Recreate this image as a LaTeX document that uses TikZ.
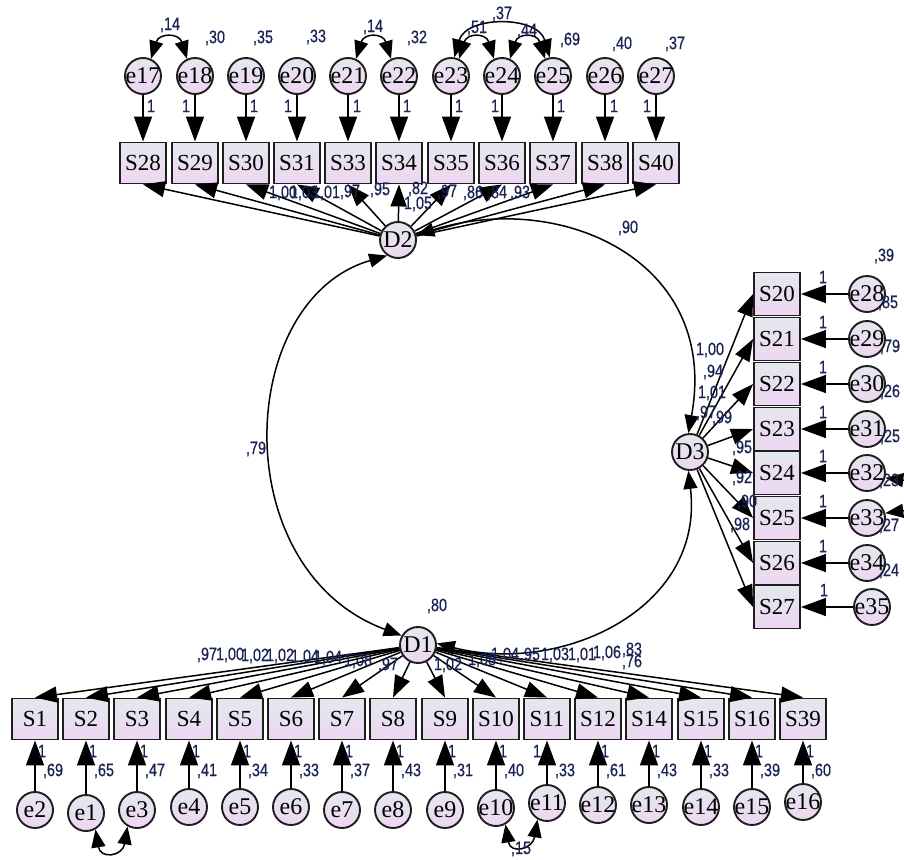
\documentclass[tikz,border=0pt]{standalone}
\usepackage{fontspec}
\setmainfont{Liberation Serif}
\newfontfamily\numfont[FakeStretch=0.8,FakeBold=0.6]{Liberation Sans}
\usetikzlibrary{arrows.meta}
\definecolor{boxtop}{RGB}{228,232,238}
\definecolor{boxbot}{RGB}{238,214,242}
\definecolor{numcol}{RGB}{25,35,85}
\definecolor{edgecol}{RGB}{30,30,30}
\newcommand\clab[1]{\makebox[0pt][c]{#1}}
\begin{document}
\begin{tikzpicture}[x=1pt,y=-1pt,
  obs/.style={draw=edgecol, line width=1.9pt, minimum width=46pt, minimum height=41pt, inner sep=0pt, top color=boxtop, bottom color=boxbot, font=\fontsize{23}{23}\selectfont},
  obsr/.style={obs, minimum height=43pt},
  lat/.style={circle, draw=edgecol, line width=1.9pt, minimum size=36pt, inner sep=0pt, top color=boxtop, bottom color=boxbot, font=\fontsize{24}{24}\selectfont},
  arr/.style={-{Triangle[length=22pt,width=16pt]}, line width=1.5pt},
  earr/.style={-{Triangle[length=25pt,width=18pt]}, line width=1.6pt},
  cov/.style={{Triangle[length=18pt,width=14pt]}-{Triangle[length=18pt,width=14pt]}, line width=1.5pt},
  num/.style={font=\numfont\fontsize{18}{18}\selectfont, text=numcol, inner sep=0pt}]
\useasboundingbox (0,0) rectangle (904,859);

% latent factors
\node[lat] (D2) at (398,240) {\clab{D2}};
\node[lat] (D3) at (690,452) {\clab{D3}};
\node[lat] (D1) at (418,645) {\clab{D1}};

% top block
\foreach \x/\n/\e/\o in {143/S28/e17/8, 195/S29/e18/-9, 246/S30/e19/8, 297/S31/e20/-9, 348/S33/e21/9, 399/S34/e22/8, 451/S35/e23/8, 502/S36/e24/-7, 553/S37/e25/8, 605/S38/e26/9, 656/S40/e27/-9}{
  \node[obs] (\n) at (\x,163) {\n};
  \node[lat] (\e) at (\x,76) {\clab{\e}};
  \draw[earr] (\e) -- (\n);
  \node[num] at ({\x+(\o)},106) {1};
  \draw[arr] (D2) -- (\n.south);
}

% right block
\foreach \y/\n/\e in {294/S20/e28, 339/S21/e29, 384/S22/e30, 429/S23/e31, 473/S24/e32, 518/S25/e33, 563/S26/e34}{
  \node[obsr] (\n) at (777,\y) {\n};
  \node[lat] (\e) at (867,\y) {\clab{\e}};
  \draw[earr] (\e) -- (\n);
  \node[num] at (823,{\y-17}) {1};
  \draw[arr] (D3) -- (\n.west);
}
\node[obsr] (S27) at (777,607) {S27};
\node[lat] (e35) at (872,607) {\clab{e35}};
\draw[earr] (e35) -- (S27);
\node[num] at (824,590) {1};
\draw[arr] (D3) -- (S27.west);

% bottom block
\foreach \x/\n/\e/\ey/\o/\v in {35/S1/e2/810/7/69, 86/S2/e1/813/7/65, 137/S3/e3/810/7/47, 189/S4/e4/807/7/41, 240/S5/e5/807/7/34, 291/S6/e6/807/7/33, 342/S7/e7/810/7/37, 393/S8/e8/810/7/43, 445/S9/e9/810/7/31, 496/S10/e10/808/7/40, 547/S11/e11/803/-10/33, 598/S12/e12/805/7/61, 649/S14/e13/805/7/43, 701/S15/e14/807/7/33, 752/S16/e15/807/7/39, 803/S39/e16/802/7/60}{
  \node[obs] (\n) at (\x,719) {\n};
  \node[lat] (\e) at (\x,\ey) {\clab{\e}};
  \draw[earr] (\e) -- (\n);
  \node[num] at ({\x+(\o)},751) {1};
  \node[num] at ({\x+18},771) {,\v};
  \draw[arr] (D1) -- (\n.north);
}

% factor covariances
\draw[cov] (D2.235) .. controls (235,300) and (225,570) .. (D1.150);
\draw[cov] (D2.15) .. controls (560,190) and (720,260) .. (D3.95);
\draw[cov] (D1.5) .. controls (560,675) and (705,610) .. (D3.265);

% error covariances
\draw[cov] (e17.65) .. controls +(8,-26) and +(-8,-26) .. (e18.115);
\draw[cov] (e21.65) .. controls +(8,-26) and +(-8,-26) .. (e22.115);
\draw[cov] (e23.65) .. controls +(8,-26) and +(-8,-26) .. (e24.115);
\draw[cov] (e24.65) .. controls +(8,-26) and +(-8,-26) .. (e25.115);
\draw[cov] (e23.80) .. controls +(12,-42) and +(-12,-42) .. (e25.100);
\draw[cov] (e1.-60) .. controls +(5,30) and +(-5,30) .. (e3.-120);
\draw[cov] (e10.-60) .. controls +(5,30) and +(-5,30) .. (e11.-120);
\draw[cov] (e32.-15) .. controls +(40,5) and +(40,-5) .. (e33.15);

% top numbers
\node[num] at (170,25) {,14};
\node[num] at (373,27) {,14};
\node[num] at (477,28) {,51};
\node[num] at (502,14) {,37};
\node[num] at (527,31) {,44};
\node[num] at (215,38) {,30};
\node[num] at (263,38) {,35};
\node[num] at (316,37) {,33};
\node[num] at (417,38) {,32};
\node[num] at (570,40) {,69};
\node[num] at (622,44) {,40};
\node[num] at (675,44) {,37};

% D2 loadings
\node[num] at (283,193) {1,00};
\node[num] at (304,193) {1,03};
\node[num] at (326,193) {1,01};
\node[num] at (350,192) {,97};
\node[num] at (380,190) {,95};
\node[num] at (418,189) {,82};
\node[num] at (418,204) {1,05};
\node[num] at (447,192) {,97};
\node[num] at (473,193) {,86};
\node[num] at (497,193) {,84};
\node[num] at (520,193) {,93};

\node[num] at (628,228) {,90};
\node[num] at (256,449) {,79};
\node[num] at (437,606) {,80};

% D3 loadings
\node[num] at (710,350) {1,00};
\node[num] at (713,372) {,94};
\node[num] at (712,393) {1,01};
\node[num] at (706,413) {,97};
\node[num] at (722,418) {,99};
\node[num] at (742,448) {,95};
\node[num] at (742,478) {,92};
\node[num] at (747,502) {,90};
\node[num] at (740,525) {,98};

% right variances
\node[num] at (884,256) {,39};
\node[num] at (888,303) {,85};
\node[num] at (890,347) {,79};
\node[num] at (890,392) {,26};
\node[num] at (890,437) {,25};
\node[num] at (889,481) {,23};
\node[num] at (889,526) {,27};
\node[num] at (889,571) {,24};

% D1 loadings
\node[num] at (207,655) {,97};
\node[num] at (230,655) {1,00};
\node[num] at (255,656) {1,02};
\node[num] at (280,656) {1,02};
\node[num] at (305,657) {1,04};
\node[num] at (328,658) {1,04};
\node[num] at (358,661) {1,08};
\node[num] at (388,665) {,97};
\node[num] at (448,665) {1,02};
\node[num] at (482,660) {1,08};
\node[num] at (505,655) {1,04};
\node[num] at (530,655) {,95};
\node[num] at (555,655) {1,03};
\node[num] at (582,655) {1,01};
\node[num] at (607,653) {1,06};
\node[num] at (632,650) {,83};
\node[num] at (632,662) {,76};

\node[num] at (521,849) {,15};
\end{tikzpicture}
\end{document}
